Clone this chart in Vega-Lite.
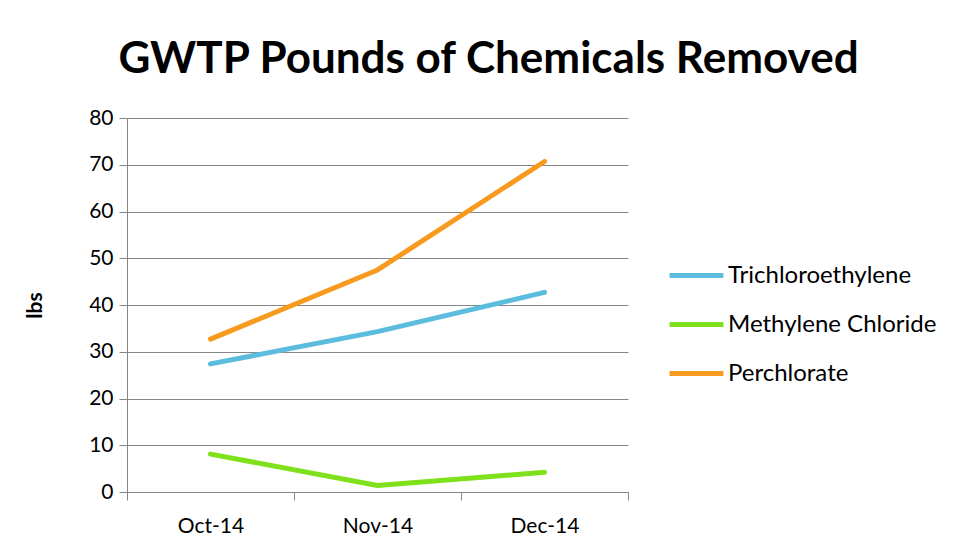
{
  "$schema": "https://vega.github.io/schema/vega-lite/v6.json",
  "autosize": {"type": "none"},
  "width": 501,
  "height": 374,
  "padding": {"left": 127, "top": 118, "right": 328, "bottom": 64},
  "background": "white",
  "title": {
    "text": "GWTP Pounds of Chemicals Removed",
    "font": "Lato",
    "fontSize": 44,
    "fontWeight": "bold",
    "color": "black",
    "anchor": "middle",
    "dx": 111,
    "offset": 25
  },
  "data": {
    "values": [
      {"month": "Oct-14", "chemical": "Trichloroethylene", "lbs": 27.4},
      {"month": "Nov-14", "chemical": "Trichloroethylene", "lbs": 34.3},
      {"month": "Dec-14", "chemical": "Trichloroethylene", "lbs": 42.7},
      {"month": "Oct-14", "chemical": "Methylene Chloride", "lbs": 8.1},
      {"month": "Nov-14", "chemical": "Methylene Chloride", "lbs": 1.4},
      {"month": "Dec-14", "chemical": "Methylene Chloride", "lbs": 4.2},
      {"month": "Oct-14", "chemical": "Perchlorate", "lbs": 32.7},
      {"month": "Nov-14", "chemical": "Perchlorate", "lbs": 47.5},
      {"month": "Dec-14", "chemical": "Perchlorate", "lbs": 70.7}
    ]
  },
  "mark": {"type": "line", "strokeWidth": 5, "strokeCap": "round", "strokeJoin": "round"},
  "encoding": {
    "x": {
      "field": "month",
      "type": "ordinal",
      "sort": ["Oct-14", "Nov-14", "Dec-14"],
      "bandPosition": 0.5,
      "scale": {"type": "band", "paddingInner": 0, "paddingOuter": 0},
      "axis": {
        "title": null,
        "labelAngle": 0,
        "labelFont": "Lato",
        "labelFontSize": 21,
        "labelColor": "black",
        "labelPadding": 15,
        "tickBand": "extent",
        "tickSize": 8,
        "tickColor": "#868686",
        "domainColor": "#868686",
        "grid": false
      }
    },
    "y": {
      "field": "lbs",
      "type": "quantitative",
      "scale": {"domain": [0, 80]},
      "axis": {
        "title": "lbs",
        "titleFont": "Lato",
        "titleFontSize": 21,
        "titleFontWeight": "bold",
        "titleColor": "black",
        "titlePadding": 43,
        "values": [0, 10, 20, 30, 40, 50, 60, 70, 80],
        "labelFont": "Lato",
        "labelFontSize": 21,
        "labelColor": "black",
        "labelPadding": 6,
        "tickSize": 8,
        "tickColor": "#868686",
        "domainColor": "#868686",
        "gridColor": "#868686",
        "gridWidth": 1.2
      }
    },
    "color": {
      "field": "chemical",
      "type": "nominal",
      "scale": {
        "domain": ["Trichloroethylene", "Methylene Chloride", "Perchlorate"],
        "range": ["#5BBCDD", "#7EE11B", "#F79A1E"]
      },
      "legend": {
        "title": null,
        "orient": "none",
        "legendX": 540,
        "legendY": 128,
        "symbolType": "stroke",
        "symbolSize": 2900,
        "symbolStrokeWidth": 5,
        "labelFont": "Lato",
        "labelFontSize": 24,
        "labelColor": "black",
        "labelOffset": 2,
        "labelLimit": 0,
        "rowPadding": 7
      }
    }
  },
  "config": {
    "view": {"stroke": null}
  }
}
